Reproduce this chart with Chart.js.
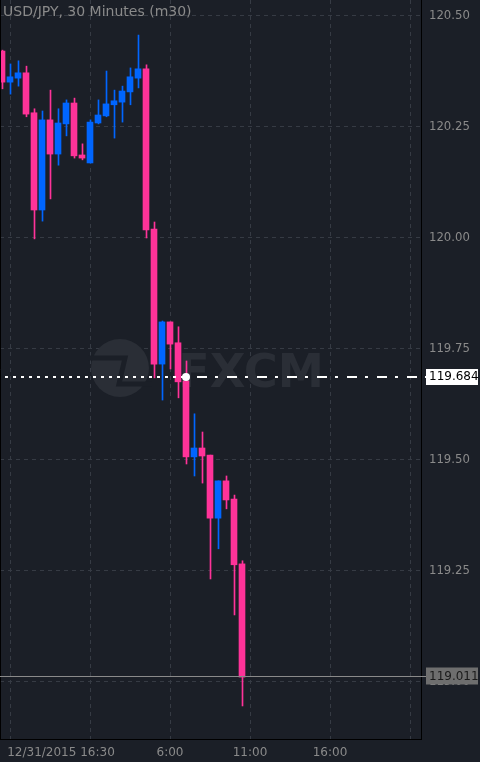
<!DOCTYPE html>
<html>
<head>
<meta charset="utf-8">
<script src="https://cdn.jsdelivr.net/npm/chart.js@4.4.1/dist/chart.umd.min.js"></script>
<style>
  html, body { margin: 0; padding: 0; background: #1b1f27; }
  #wrap { width: 480px; height: 762px; position: relative; }
</style>
</head>
<body>
<div id="wrap"><canvas id="chart"></canvas></div>
<script>
// USD/JPY m30 — 31 candles
const TITLE = 'USD/JPY, 30 Minutes (m30)';
const OPEN  = [120.421, 120.351, 120.360, 120.372, 120.282, 120.063, 120.266, 120.189, 120.257, 120.304,
  120.187, 120.169, 120.259, 120.275, 120.300, 120.306, 120.329, 120.360, 120.381, 120.020,
  119.716, 119.811, 119.764, 119.678, 119.507, 119.527, 119.511, 119.369, 119.453, 119.412, 119.266];
const HIGH  = [120.423, 120.392, 120.399, 120.387, 120.291, 120.286, 120.333, 120.291, 120.311, 120.315,
  120.212, 120.266, 120.311, 120.376, 120.333, 120.342, 120.383, 120.457, 120.390, 120.036,
  119.813, 119.811, 119.800, 119.723, 119.604, 119.563, 119.511, 119.453, 119.464, 119.421, 119.273];
const LOW   = [120.336, 120.324, 120.342, 120.273, 119.998, 120.038, 120.088, 120.164, 120.230, 120.180,
  120.176, 120.169, 120.257, 120.273, 120.225, 120.261, 120.300, 120.338, 120.000, 119.685,
  119.635, 119.705, 119.640, 119.491, 119.464, 119.448, 119.232, 119.300, 119.390, 119.151, 118.946];
const CLOSE = [120.351, 120.363, 120.372, 120.279, 120.063, 120.266, 120.189, 120.259, 120.304, 120.185,
  120.180, 120.261, 120.277, 120.302, 120.309, 120.331, 120.363, 120.381, 120.018, 119.716,
  119.811, 119.761, 119.676, 119.507, 119.527, 119.509, 119.369, 119.453, 119.410, 119.264, 119.011];

const Y_TICKS = [119.00, 119.25, 119.50, 119.75, 120.00, 120.25, 120.50];
const X_TICKS = [1, 7.375, 11, 21, 31, 41, 51];
const X_LABELS = ['', '12/31/2015 16:30', '', '6:00', '11:00', '16:00', ''];

const H_LINE = 119.684;   // 수평선 (흰 점선)
const H_LINE_AT = 23;     // 수평선 위의 점이 찍힌 봉
const LAST_PRICE = CLOSE[CLOSE.length - 1];

const UP = '#0066ff';
const DOWN = '#ff3399';
const BG = '#1b1f27';
const GRID = '#363b44';
const TXT = '#8a8a8a';
const MARK = '#2a2e36';
const FONT = 'DejaVu Sans';

const X_MIN = -0.25, X_MAX = 52.375;
const WICK_SHIFT = 0.0625; // half pixel so 1px wicks stay sharp

const idx = OPEN.map((_, i) => i);
const colors = idx.map((i) => (CLOSE[i] >= OPEN[i] ? UP : DOWN));

const overlay = {
  id: 'overlay',
  beforeDatasetsDraw(chart) {
    // FXCM 워터마크
    const { ctx } = chart;
    ctx.save();
    ctx.fillStyle = MARK;
    ctx.beginPath();
    ctx.arc(120, 368, 29, 0, Math.PI * 2);
    ctx.fill();
    ctx.strokeStyle = BG;
    ctx.lineWidth = 5;
    ctx.beginPath();
    ctx.moveTo(88, 358);
    ctx.lineTo(125, 358);
    ctx.lineTo(119, 384);
    ctx.lineTo(152, 384);
    ctx.stroke();
    ctx.font = `bold 47px "${FONT}"`;
    ctx.textBaseline = 'alphabetic';
    const w = ctx.measureText('FXCM').width;
    ctx.translate(178, 387);
    ctx.scale(146 / w, 1);
    ctx.fillStyle = MARK;
    ctx.fillText('FXCM', 0, 0);
    ctx.restore();
  },
  afterDraw(chart) {
    const { ctx, chartArea: a, scales } = chart;
    const y = scales.y;
    ctx.save();

    // left border
    ctx.strokeStyle = '#000';
    ctx.lineWidth = 1;
    ctx.beginPath();
    ctx.moveTo(a.left + 0.5, a.top);
    ctx.lineTo(a.left + 0.5, a.bottom);
    ctx.stroke();

    // title
    ctx.fillStyle = TXT;
    ctx.font = `14px "${FONT}"`;
    ctx.textBaseline = 'alphabetic';
    ctx.textAlign = 'left';
    ctx.fillText(TITLE, 3, 16);

    // last price line + label
    const ly = Math.round(y.getPixelForValue(LAST_PRICE)) - 0.5;
    ctx.strokeStyle = '#8a8a8a';
    ctx.beginPath();
    ctx.moveTo(a.left, ly);
    ctx.lineTo(a.right + 5, ly);
    ctx.stroke();
    ctx.fillStyle = '#6e6e6e';
    ctx.fillRect(a.right + 5, ly - 9, 52, 17);
    ctx.fillStyle = '#1a1a1a';
    ctx.font = `12px "${FONT}"`;
    ctx.textBaseline = 'middle';
    ctx.fillText(LAST_PRICE.toFixed(3), a.right + 8, ly);

    // horizontal line with marker
    const hy = Math.round(y.getPixelForValue(H_LINE)) - 1;
    const hx = scales.x.getPixelForValue(H_LINE_AT);
    ctx.strokeStyle = '#fff';
    ctx.lineWidth = 2;
    ctx.setLineDash([3, 5]);
    ctx.lineDashOffset = 3;
    ctx.beginPath();
    ctx.moveTo(a.left, hy);
    ctx.lineTo(hx, hy);
    ctx.stroke();
    ctx.setLineDash([10, 8, 3, 9]);
    ctx.lineDashOffset = 19;
    ctx.beginPath();
    ctx.moveTo(hx, hy);
    ctx.lineTo(a.right + 5, hy);
    ctx.stroke();
    ctx.setLineDash([]);
    ctx.fillStyle = '#fff';
    ctx.beginPath();
    ctx.arc(hx, hy, 4, 0, Math.PI * 2);
    ctx.fill();
    ctx.fillRect(a.right + 5, hy - 8, 52, 16);
    ctx.fillStyle = '#000';
    ctx.fillText(H_LINE.toFixed(3), a.right + 8, hy);

    ctx.restore();
  },
};

new Chart(document.getElementById('chart'), {
  type: 'bar',
  data: {
    datasets: [
      {
        label: 'wick',
        xAxisID: 'xw',
        data: idx.map((i) => ({ x: i, y: [LOW[i], HIGH[i]] })),
        backgroundColor: colors,
        barThickness: 1,
        grouped: false,
      },
      {
        label: 'body',
        xAxisID: 'x',
        data: idx.map((i) => ({ x: i, y: [OPEN[i], CLOSE[i]] })),
        backgroundColor: colors,
        barThickness: 6,
        grouped: false,
      },
    ],
  },
  options: {
    responsive: true,
    maintainAspectRatio: false,
    animation: false,
    devicePixelRatio: 1,
    layout: { padding: 0 },
    plugins: { legend: { display: false }, tooltip: { enabled: false } },
    scales: {
      x: {
        type: 'linear',
        position: 'bottom',
        offset: false,
        min: X_MIN,
        max: X_MAX,
        afterBuildTicks: (s) => { s.ticks = X_TICKS.map((v) => ({ value: v })); },
        afterFit: (s) => { s.height = 23; s.paddingLeft = 0; s.paddingRight = 0; },
        ticks: {
          callback: (v, i) => X_LABELS[i],
          color: TXT,
          font: { family: FONT, size: 12 },
          padding: 7,
          maxRotation: 0,
          autoSkip: false,
        },
        grid: {
          offset: false,
          color: (c) => (c.index === 1 ? 'transparent' : GRID),
          drawTicks: false,
        },
        border: { color: '#000', dash: [4, 4] },
      },
      xw: {
        type: 'linear',
        display: false,
        offset: false,
        min: X_MIN - WICK_SHIFT,
        max: X_MAX - WICK_SHIFT,
      },
      y: {
        type: 'linear',
        position: 'right',
        min: 118.8716,
        max: 120.536,
        afterBuildTicks: (s) => { s.ticks = Y_TICKS.map((v) => ({ value: v })); },
        afterFit: (s) => { s.width = 59; s.paddingTop = 0; s.paddingBottom = 0; },
        ticks: {
          callback: (v) => v.toFixed(2),
          color: TXT,
          font: { family: FONT, size: 11.7 },
          padding: 8,
        },
        grid: { color: GRID, drawTicks: false },
        border: { color: '#000', dash: [4, 4] },
      },
    },
  },
  plugins: [overlay],
});
</script>
</body>
</html>
